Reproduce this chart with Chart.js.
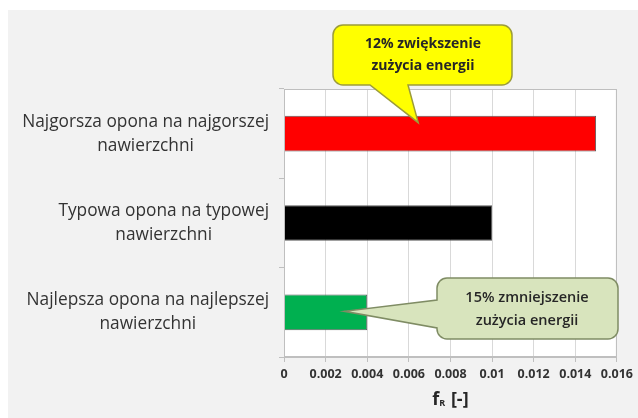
<!DOCTYPE html>
<html>
<head>
<meta charset="utf-8">
<script src="https://cdn.jsdelivr.net/npm/chart.js@4.4.1/dist/chart.umd.min.js"></script>
<style>
  body { margin: 0; background: #ffffff; }
  #wrap { width: 638px; height: 418px; }
</style>
</head>
<body>
<div id="wrap"><canvas id="frChart" width="638" height="418"></canvas></div>
<script>
// Dane wykresu
const categories = [
    ['Najgorsza opona na najgorszej', 'nawierzchni'],
    ['Typowa opona na typowej', 'nawierzchni'],
    ['Najlepsza opona na najlepszej', 'nawierzchni']
];
const frValues = [0.015, 0.010, 0.004];
const barColors = ['#ff0000', '#000000', '#00b050'];
const xTickLabels = ['0', '0.002', '0.004', '0.006', '0.008', '0.01', '0.012', '0.014', '0.016'];
const worstNote = ['12% zwiększenie', 'zużycia energii'];
const bestNote = ['15% zmniejszenie', 'zużycia energii'];

const FONT = '"Open Sans", "DejaVu Sans", sans-serif';

function roundedCallout(ctx, box, r, pointer) {
    const { x, y, w, h } = box;
    ctx.beginPath();
    ctx.moveTo(x + r, y);
    ctx.lineTo(x + w - r, y);
    ctx.arcTo(x + w, y, x + w, y + r, r);
    ctx.lineTo(x + w, y + h - r);
    ctx.arcTo(x + w, y + h, x + w - r, y + h, r);
    if (pointer.side === 'bottom') {
        ctx.lineTo(pointer.b2, y + h);
        ctx.lineTo(pointer.tip.x, pointer.tip.y);
        ctx.lineTo(pointer.b1, y + h);
    }
    ctx.lineTo(x + r, y + h);
    ctx.arcTo(x, y + h, x, y + h - r, r);
    if (pointer.side === 'left') {
        ctx.lineTo(x, pointer.b2);
        ctx.lineTo(pointer.tip.x, pointer.tip.y);
        ctx.lineTo(x, pointer.b1);
    }
    ctx.lineTo(x, y + r);
    ctx.arcTo(x, y, x + r, y, r);
    ctx.closePath();
}

const decorPlugin = {
    id: 'decor',
    beforeDraw(chart) {
        const { ctx, chartArea } = chart;
        ctx.save();
        ctx.fillStyle = '#f2f2f2';
        ctx.fillRect(8, 10, chart.width - 8, chart.height - 10);
        ctx.fillStyle = '#ffffff';
        ctx.fillRect(chartArea.left, chartArea.top, chartArea.right - chartArea.left, chartArea.bottom - chartArea.top);
        ctx.restore();
    },
    afterDraw(chart) {
        const { ctx, chartArea, scales } = chart;
        ctx.save();

        // ramka obszaru wykresu
        ctx.strokeStyle = '#bfbfbf';
        ctx.lineWidth = 1;
        ctx.strokeRect(chartArea.left + 0.5, chartArea.top + 0.5, chartArea.right - chartArea.left - 1, chartArea.bottom - chartArea.top - 1);

        // etykiety kategorii (blok wyrównany do prawej, linie wyśrodkowane)
        ctx.font = '17.3px ' + FONT;
        ctx.fillStyle = '#333333';
        ctx.textAlign = 'center';
        ctx.textBaseline = 'middle';
        const rightEdge = chartArea.left - 15;
        categories.forEach((lines, i) => {
            const cy = scales.y.getPixelForValue(i);
            const widest = Math.max(...lines.map(l => ctx.measureText(l).width));
            const cx = rightEdge - widest / 2;
            const lh = 24;
            lines.forEach((l, j) => {
                ctx.fillText(l, cx, cy + (j - (lines.length - 1) / 2) * lh);
            });
        });

        // tytuł osi X: f z indeksem R
        const midX = (chartArea.left + chartArea.right) / 2;
        const ty = 398;
        ctx.fillStyle = '#262626';
        ctx.textAlign = 'left';
        ctx.textBaseline = 'alphabetic';
        const big = 'bold 18px ' + FONT, small = 'bold 9px ' + FONT;
        ctx.font = big; const wf = ctx.measureText('f').width;
        ctx.font = small; const wr = ctx.measureText('R').width + 1;
        ctx.font = big; const wb = ctx.measureText(' [-]').width;
        let sx = midX - (wf + wr + wb) / 2;
        ctx.font = big; ctx.fillText('f', sx, ty + 7); sx += wf;
        ctx.font = small; ctx.fillText('R', sx, ty + 8); sx += wr;
        ctx.font = big; ctx.fillText(' [-]', sx, ty + 7);

        // dymek żółty
        const tipA = { x: scales.x.getPixelForValue(0.00645), y: scales.y.getPixelForValue(0) - 11 };
        roundedCallout(ctx, { x: 333, y: 25, w: 179, h: 60 }, 10, { side: 'bottom', b1: 370, b2: 408, tip: tipA });
        ctx.fillStyle = '#ffff00';
        ctx.fill();
        ctx.strokeStyle = '#9c9c3a';
        ctx.lineWidth = 1.5;
        ctx.stroke();
        ctx.fillStyle = '#262626';
        ctx.font = 'bold 14px ' + FONT;
        ctx.textAlign = 'center';
        ctx.textBaseline = 'middle';
        worstNote.forEach((t, j) => ctx.fillText(t, 423, 44 + j * 22));

        // dymek zielony
        const tipB = { x: scales.x.getPixelForValue(0.0029), y: scales.y.getPixelForValue(2) - 1 };
        roundedCallout(ctx, { x: 437, y: 278, w: 181, h: 61 }, 10, { side: 'left', b1: 300, b2: 328, tip: tipB });
        ctx.fillStyle = '#d8e4bd';
        ctx.fill();
        ctx.strokeStyle = '#7f8c64';
        ctx.lineWidth = 1.5;
        ctx.stroke();
        ctx.fillStyle = '#262626';
        ctx.font = '600 14.5px ' + FONT;
        bestNote.forEach((t, j) => ctx.fillText(t, 527, 298 + j * 23));

        ctx.restore();
    }
};

const ctx = document.getElementById('frChart').getContext('2d');
new Chart(ctx, {
    type: 'bar',
    data: {
        labels: categories,
        datasets: [{
            label: 'fR',
            data: frValues,
            backgroundColor: barColors,
            borderColor: '#5a5a5a',
            borderWidth: 1,
            categoryPercentage: 1,
            barPercentage: 0.4
        }]
    },
    options: {
        indexAxis: 'y',
        responsive: false,
        animation: false,
        layout: { padding: { left: 0, top: 89, right: 17, bottom: 0 } },
        plugins: {
            legend: { display: false },
            tooltip: { enabled: false }
        },
        scales: {
            x: {
                min: 0,
                max: 0.016,
                ticks: {
                    stepSize: 0.002,
                    padding: 5,
                    color: '#333333',
                    font: { family: FONT, size: 12.5, weight: 'bold' },
                    callback: (v, i) => xTickLabels[i]
                },
                grid: { color: '#d9d9d9', tickLength: 5, tickColor: '#bfbfbf' },
                border: { color: '#bfbfbf' },
                afterFit: scale => { scale.height = 61; }
            },
            y: {
                ticks: { display: false },
                grid: { drawOnChartArea: false, tickLength: 5, color: '#bfbfbf' },
                border: { color: '#bfbfbf' },
                afterFit: scale => { scale.width = 284; }
            }
        }
    },
    plugins: [decorPlugin]
});
</script>
</body>
</html>
